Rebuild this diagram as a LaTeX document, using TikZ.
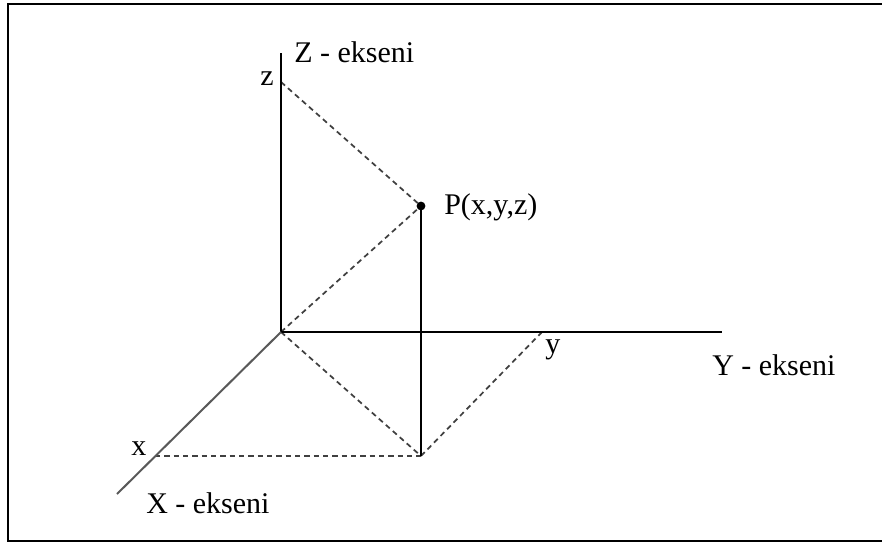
\documentclass[tikz,border=0pt]{standalone}
\usepackage{fontspec}
\setmainfont{Liberation Serif}
\begin{document}
\begin{tikzpicture}[x=0.75pt,y=-0.75pt,
  axisline/.style={line width=1.6pt, black},
  xaxisline/.style={line width=1.5pt, black!65},
  dashline/.style={line width=1.3pt, black!75, dash pattern=on 4pt off 3pt},
  framel/.style={line width=1.6pt, black},
  lbl/.style={inner sep=0pt, font=\fontsize{22.5}{27}\selectfont, anchor=base west}]
\useasboundingbox (0,0) rectangle (882,543);
% frame
\coordinate (f1) at (882,4);
\coordinate (f2) at (8,4);
\coordinate (f3) at (8,541);
\coordinate (f4) at (882,541);
\draw[framel] (f1) -- (f2) -- (f3) -- (f4);
% points
\coordinate (O) at (281,332);
\coordinate (Zend) at (281,53);
\coordinate (zt) at (281,82);
\coordinate (Yend) at (722,332);
\coordinate (yt) at (542,332);
\coordinate (Xend) at (117,494);
\coordinate (xt) at (155,456);
\coordinate (F) at (421,456);
\coordinate (P) at (421,206);
% dashed projections
\draw[dashline] (zt) -- (P);
\draw[dashline] (O) -- (P);
\draw[dashline] (O) -- (F);
\draw[dashline] (xt) -- (F);
\draw[dashline] (F) -- (yt);
% axes
\draw[axisline] (Zend) -- (O) -- (Yend);
\draw[xaxisline] (O) -- (Xend);
\draw[axisline] (P) -- (F);
\fill (P) circle (3.3pt);
% labels
\node[lbl] (lz) at (294,62) {Z - ekseni};
\node[lbl] (lzt) at (260,85) {z};
\node[lbl] (lp) at (444,214) {P(x,y,z)};
\node[lbl] (lyt) at (545,353) {y};
\node[lbl] (ly) at (712,375) {Y - ekseni};
\node[lbl] (lxt) at (131,455) {x};
\node[lbl] (lx) at (146,513) {X - ekseni};
\end{tikzpicture}
\end{document}
